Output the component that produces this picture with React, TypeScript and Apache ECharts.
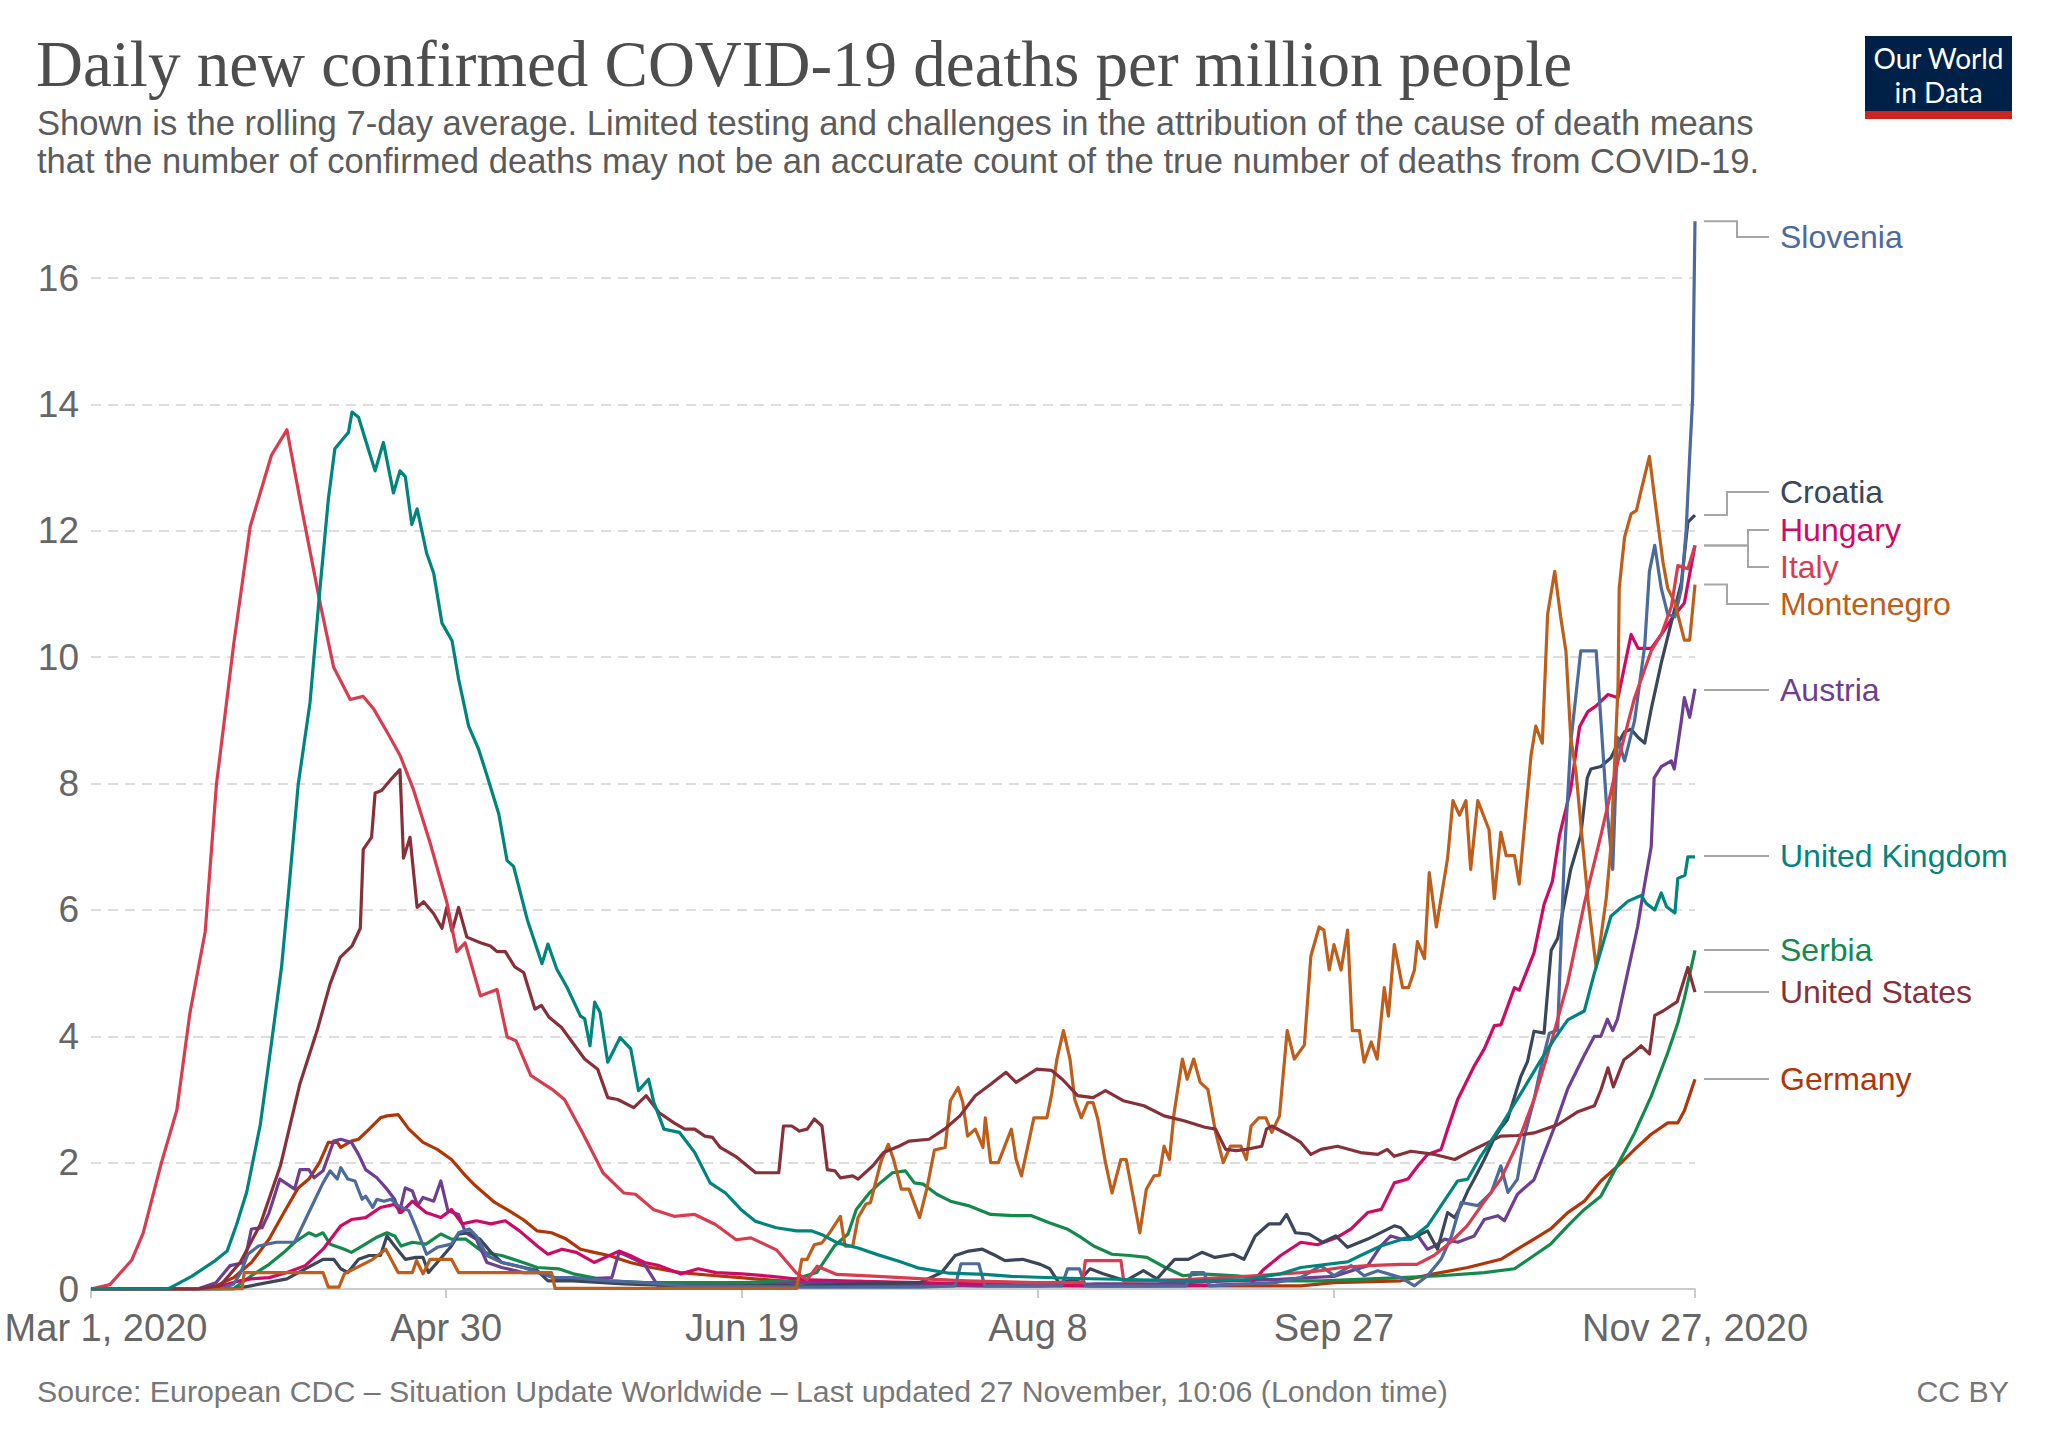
import React, { useEffect, useRef } from 'react';
import * as echarts from 'echarts';

// x = days since Mar 1, 2020 ; y = daily confirmed deaths per million (7-day avg)
const X_TICK_DAYS = [0, 60, 110, 160, 210, 271];
const X_TICK_LABELS = ['Mar 1, 2020', 'Apr 30', 'Jun 19', 'Aug 8', 'Sep 27', 'Nov 27, 2020'];
const Y_TICK_STEP = 2;
const Y_LABEL_MAX = 16;

const slovenia: [number, number][] = [
  [0, 0], [22, 0], [24.1, 0.08], [25.3, 0.26], [26.5, 0.55], [28.3, 0.68], [31.3, 0.74], [34.4, 0.74], [36.8, 1.21], [39.2, 1.68],
  [40.4, 1.87], [41.6, 1.74], [42.2, 1.92], [43.4, 1.74], [44.6, 1.71], [45.8, 1.42], [46.4, 1.47], [47.6, 1.29], [48.3, 1.42], [49.5, 1.39],
  [50.7, 1.42], [51.9, 1.32], [53.7, 1.24], [54.9, 0.97], [56.7, 0.55], [58.5, 0.66], [60.9, 0.71], [62.1, 0.89], [63.9, 0.95], [65.1, 0.84],
  [66.9, 0.53], [69.4, 0.42], [73, 0.34], [78.4, 0.18], [81.5, 0.18], [87.5, 0.13], [93.5, 0.1], [100, 0.05], [120, 0.03], [140, 0.03],
  [146, 0.05], [147, 0.4], [150, 0.4], [151, 0.05], [164, 0.05], [165, 0.32], [167, 0.32], [168, 0.05], [185, 0.05], [186, 0.26],
  [188, 0.26], [189, 0.05], [200, 0.1], [204.4, 0.18], [207.8, 0.37], [210, 0.21], [212.9, 0.37], [215.1, 0.21], [217.4, 0.29], [221.3, 0.18],
  [223.6, 0.05], [225.8, 0.21], [228.1, 0.47], [229.8, 0.82], [231.5, 1.37], [234.3, 1.32], [236.6, 1.53], [238.2, 1.95], [239.4, 1.53], [241, 1.74],
  [242.2, 2.42], [243.8, 3.0], [245, 3.53], [246.4, 4.05], [247.8, 4.1], [248.9, 6.8], [250, 8.64], [251.7, 10.1], [254.3, 10.1], [255.1, 9.0],
  [256, 7.73], [257.1, 6.64], [257.9, 8.73], [259.1, 8.36], [260.8, 9.0], [262.5, 10.18], [263.3, 11.36], [264.2, 11.77], [265.3, 11.09], [266.4, 10.68],
  [267.6, 10.64], [268.7, 11.09], [269.5, 12.0], [270.1, 13.18], [270.6, 14.1], [271, 16.9],
];

const croatia: [number, number][] = [
  [0, 0], [24, 0], [27, 0.05], [33.1, 0.16], [36.2, 0.32], [39.2, 0.47], [41, 0.47], [42.2, 0.32], [43.4, 0.26], [45.2, 0.47],
  [47, 0.53], [48.9, 0.53], [50, 0.84], [51.3, 0.68], [53.1, 0.47], [54.9, 0.5], [56.1, 0.5], [57, 0.26], [58.5, 0.42], [60.9, 0.68],
  [62.1, 0.87], [63.9, 0.89], [65.7, 0.79], [67.6, 0.58], [69.4, 0.42], [75.4, 0.29], [77.2, 0.13], [81.5, 0.13], [90, 0.08], [100, 0.05],
  [110, 0.05], [120, 0.05], [130, 0.08], [140, 0.1], [143.7, 0.26], [146, 0.53], [148.3, 0.6], [150.6, 0.63], [152.8, 0.53], [154.4, 0.45],
  [157.4, 0.47], [160.4, 0.39], [162, 0.32], [163.5, 0.1], [167.2, 0.16], [168.8, 0.32], [171, 0.24], [174.8, 0.13], [177.8, 0.29], [180.1, 0.16],
  [181.6, 0.32], [183.1, 0.47], [185.4, 0.47], [187.7, 0.58], [189.9, 0.5], [193, 0.55], [194.8, 0.47], [196.7, 0.84], [199, 1.03], [200.9, 1.03],
  [202, 1.18], [203.5, 0.89], [205.8, 0.87], [208.1, 0.74], [210.3, 0.84], [212.3, 0.66], [215.7, 0.79], [220.2, 1.0], [221.3, 0.97], [223, 0.79],
  [225.8, 0.92], [227.5, 0.63], [229.2, 1.21], [230.4, 1.13], [231.5, 1.32], [232.6, 1.55], [233.7, 1.74], [235.4, 2.05], [237.1, 2.39], [238.2, 2.55],
  [239.3, 2.68], [241.6, 3.37], [242.7, 3.6], [243.8, 4.08], [245.5, 4.05], [246.7, 5.36], [247.8, 5.55], [250, 6.64], [251.7, 7.18], [252.8, 8.09],
  [253.4, 8.23], [255.1, 8.27], [256.8, 8.41], [258, 8.64], [259.1, 8.82], [260.2, 8.86], [261.4, 8.73], [262.5, 8.64], [263.6, 9.18], [265.3, 9.91],
  [267, 10.55], [268.7, 11.18], [269.8, 12.14], [271, 12.25],
];

const hungary: [number, number][] = [
  [0, 0], [20, 0], [24.7, 0.12], [27, 0.16], [30.1, 0.18], [33.1, 0.26], [36.2, 0.37], [39.2, 0.63], [42.2, 1.0], [44, 1.1],
  [46.4, 1.13], [48.9, 1.29], [51.3, 1.34], [52.4, 1.21], [54.3, 1.39], [56.6, 1.21], [59.1, 1.13], [60.9, 1.26], [62.7, 1.03], [65.1, 1.08],
  [67.6, 1.03], [70, 1.08], [72.4, 0.92], [75.4, 0.68], [77.2, 0.55], [79.6, 0.63], [82, 0.58], [85, 0.42], [89.2, 0.6], [91.1, 0.53],
  [93.5, 0.42], [96, 0.37], [99.6, 0.24], [102.6, 0.32], [105.6, 0.26], [110, 0.24], [115, 0.2], [120, 0.15], [130, 0.12], [140, 0.1],
  [150, 0.08], [160, 0.06], [170, 0.05], [180, 0.05], [190, 0.06], [196, 0.08], [198, 0.3], [201, 0.53], [204.4, 0.74], [207.2, 0.7],
  [210.6, 0.82], [212.9, 0.95], [215.7, 1.21], [218, 1.26], [220.2, 1.68], [222.5, 1.74], [224.2, 1.95], [225.8, 2.13], [228.1, 2.21], [229.2, 2.53],
  [230.9, 3.0], [233.7, 3.53], [235.4, 3.8], [237.1, 4.17], [238.2, 4.18], [240.5, 4.77], [241.3, 4.73], [243.8, 5.32], [245.5, 6.09], [246.9, 6.45],
  [248.1, 7.18], [250, 7.91], [251.5, 8.9], [252.9, 9.14], [254.3, 9.23], [256.3, 9.41], [258, 9.36], [260.2, 10.36], [261.4, 10.14], [263.6, 10.14],
  [265.3, 10.36], [267, 10.6], [269.2, 10.86], [271, 11.77],
];

const italy: [number, number][] = [
  [0, 0], [3.2, 0.07], [6.9, 0.46], [8.8, 0.88], [11.9, 2.0], [14.5, 2.83], [16.7, 4.36], [19.3, 5.66], [21.2, 7.99], [24.1, 10.2],
  [26.9, 12.07], [30.5, 13.2], [33.1, 13.6], [35.3, 12.5], [38.7, 10.86], [41, 9.84], [43.8, 9.33], [46, 9.38], [47.7, 9.19], [50, 8.82],
  [52.2, 8.45], [54.5, 7.9], [57.3, 7.06], [60.1, 6.13], [61.8, 5.34], [63.2, 5.48], [65.8, 4.64], [68.6, 4.74], [70.3, 3.99], [71.8, 3.93],
  [74.3, 3.38], [77.9, 3.16], [80, 3.0], [83, 2.48], [86.5, 1.84], [90, 1.52], [92, 1.5], [95, 1.26], [98.5, 1.15], [102, 1.18],
  [105.5, 1.02], [109, 0.78], [111.5, 0.81], [115.8, 0.62], [119.2, 0.25], [121, 0.15], [122.7, 0.36], [126, 0.23], [133, 0.2], [140.7, 0.16],
  [148, 0.13], [159.6, 0.1], [167.5, 0.1], [168, 0.45], [174, 0.45], [174.5, 0.12], [185, 0.15], [195, 0.2], [204.4, 0.26], [207.8, 0.29],
  [211.2, 0.34], [215.7, 0.37], [221.3, 0.39], [224, 0.39], [226.9, 0.53], [229.7, 0.74], [232.5, 1.0], [235.3, 1.37], [238.2, 1.74], [241, 2.3],
  [243.8, 3.0], [246.7, 3.9], [249.5, 4.85], [252.3, 6.1], [255.1, 7.18], [258, 8.36], [260.8, 9.36], [263.6, 10.1], [265.3, 10.36], [267, 10.8],
  [268.1, 11.45], [269.8, 11.4], [271, 11.77],
];

const montenegro: [number, number][] = [
  [0, 0], [25.5, 0], [25.9, 0.26], [39.2, 0.26], [40.1, 0.03], [41.9, 0.03], [42.8, 0.24], [47.6, 0.47], [49.8, 0.63], [50.7, 0.47],
  [51.9, 0.26], [54.3, 0.26], [55, 0.45], [56.1, 0.24], [57.3, 0.47], [60.9, 0.47], [62.1, 0.26], [77.8, 0.26], [78.4, 0.01], [119.2, 0.01],
  [120.1, 0.47], [121, 0.47], [122.2, 0.7], [123.5, 0.73], [124.8, 0.89], [126.6, 1.15], [127.4, 0.68], [128.7, 0.68], [129.6, 1.13], [130.9, 1.34],
  [131.7, 1.37], [133.5, 2.03], [134.7, 2.29], [135.6, 2.05], [136.9, 1.58], [138.2, 1.58], [140, 1.13], [141.2, 1.58], [142.5, 2.2], [144.3, 2.24],
  [145.2, 2.98], [146.5, 3.19], [147.3, 2.95], [148.1, 2.42], [149.4, 2.53], [150.7, 2.24], [151.1, 2.71], [152, 2.0], [153.3, 2.0], [155.5, 2.53],
  [156.3, 2.05], [157.2, 1.79], [159.3, 2.71], [161.5, 2.71], [162.3, 3.08], [163.2, 3.64], [164.3, 4.09], [165.4, 3.64], [166.2, 3.0], [167.3, 2.71],
  [168.4, 2.95], [169.3, 2.95], [170.1, 2.69], [171.4, 2.0], [172.5, 1.52], [174, 2.05], [174.9, 2.05], [176, 1.5], [177.2, 0.89], [178.3, 1.58],
  [179.6, 1.79], [180.5, 1.8], [181.3, 2.26], [182.2, 2.05], [183, 2.79], [184.4, 3.64], [185.2, 3.32], [186.3, 3.64], [187.4, 3.27], [188.7, 3.16],
  [190, 2.48], [191.3, 2.0], [192.5, 2.26], [194.3, 2.26], [195.2, 2.05], [196, 2.58], [197.3, 2.71], [198.5, 2.71], [199.5, 2.48], [200.8, 2.74],
  [202.1, 4.09], [203.3, 3.64], [205, 3.86], [206.1, 5.27], [207.5, 5.73], [208.3, 5.68], [209.2, 5.05], [210, 5.45], [211.2, 5.05], [212.3, 5.68],
  [213.1, 4.09], [214.3, 4.09], [215.1, 3.59], [216.3, 3.91], [217.3, 3.64], [218.5, 4.77], [219.2, 4.32], [220.2, 5.45], [221.6, 4.77], [222.6, 4.77],
  [223.6, 5.05], [224.1, 5.5], [225.3, 5.23], [226.1, 6.59], [227.3, 5.73], [229.2, 6.82], [230.1, 7.73], [231.2, 7.5], [232.3, 7.73], [233.1, 6.64],
  [234.3, 7.73], [236.2, 7.27], [237.1, 6.18], [238.2, 7.23], [239.1, 6.86], [240.5, 6.86], [241.3, 6.41], [243.3, 8.45], [244.1, 8.91], [245.2, 8.64],
  [246.1, 10.68], [247.3, 11.36], [248.3, 10.64], [249.2, 10.09], [250, 8.73], [250.9, 8.18], [251.7, 7.36], [252.9, 6.18], [254.3, 5.09], [254.8, 5.36],
  [256, 6.18], [256.8, 7.0], [258, 9.55], [258.2, 11.1], [259.1, 11.9], [260.2, 12.27], [261.1, 12.32], [261.9, 12.64], [263.3, 13.18], [264.4, 12.36],
  [265.6, 11.5], [266.4, 11.09], [267.6, 10.86], [269.2, 10.27], [270.1, 10.27], [271, 11.15],
];

const austria: [number, number][] = [
  [0, 0], [18, 0], [21.1, 0.1], [23.5, 0.37], [25.9, 0.42], [27.1, 0.95], [28.9, 0.97], [30.1, 1.21], [31.9, 1.74], [34.4, 1.58],
  [35.3, 1.89], [36.8, 1.89], [37.7, 1.76], [39.2, 1.87], [41, 2.34], [42.2, 2.37], [44, 2.32], [45.2, 2.13], [46.4, 1.89], [48.3, 1.76],
  [50, 1.58], [51.3, 1.42], [52.1, 1.21], [53.1, 1.6], [54.3, 1.55], [55.2, 1.32], [56.1, 1.45], [57.9, 1.39], [59.1, 1.71], [60.3, 1.24],
  [62.1, 1.18], [63.3, 0.89], [65.1, 0.79], [66.9, 0.42], [69.4, 0.34], [73, 0.26], [75.4, 0.26], [79, 0.16], [83.8, 0.16], [88, 0.18],
  [89.2, 0.58], [91.1, 0.5], [93.5, 0.39], [96, 0.02], [100, 0.05], [110, 0.05], [120, 0.1], [130, 0.12], [140, 0.08], [150, 0.05],
  [160, 0.05], [170, 0.08], [180, 0.08], [190, 0.12], [200, 0.15], [210, 0.2], [215.7, 0.37], [217.9, 0.68], [219.6, 0.84], [221.3, 0.79],
  [224.2, 0.84], [225.8, 0.63], [227, 0.68], [228.7, 0.79], [230.9, 0.74], [233.7, 0.84], [235.4, 1.1], [237.7, 1.16], [238.8, 1.08], [241, 1.5],
  [243.8, 1.73], [247.2, 2.55], [249.5, 3.17], [252.3, 3.7], [254, 4.0], [255.1, 4.0], [256.2, 4.27], [257.1, 4.09], [257.9, 4.27], [259.6, 5.0],
  [261.3, 5.73], [262.4, 6.36], [263.6, 7.0], [264.1, 8.09], [265.3, 8.27], [267, 8.36], [267.5, 8.23], [268.7, 9.0], [269.2, 9.36], [270.1, 9.05],
  [271, 9.5],
];

const unitedKingdom: [number, number][] = [
  [0, 0], [13, 0], [14, 0.05], [17, 0.2], [21, 0.45], [23, 0.6], [24.6, 1.02], [26.3, 1.53], [28.6, 2.6], [30.5, 3.9],
  [32.2, 5.1], [33.4, 6.3], [35, 7.98], [37, 9.28], [38.7, 11.1], [40.1, 12.5], [41.2, 13.3], [43.5, 13.56], [44.1, 13.88], [45.2, 13.8],
  [46.6, 13.37], [48, 12.95], [49.4, 13.4], [51.1, 12.6], [52.2, 12.95], [53.1, 12.86], [54.2, 12.1], [55.1, 12.35], [56.7, 11.65], [57.9, 11.33],
  [59.3, 10.54], [61, 10.26], [62.1, 9.66], [63.8, 8.91], [65.5, 8.54], [66.6, 8.22], [68.9, 7.52], [70.3, 6.78], [71.4, 6.69], [73.7, 5.85],
  [76.2, 5.15], [77.2, 5.46], [78.7, 5.06], [80.4, 4.78], [82.7, 4.32], [83.4, 4.28], [84.3, 3.85], [85.1, 4.54], [86, 4.38], [87.3, 3.59],
  [89.4, 3.98], [91.2, 3.8], [92.5, 3.14], [94.2, 3.32], [95.1, 2.95], [96.8, 2.53], [99.4, 2.48], [102, 2.16], [104.6, 1.68], [107.2, 1.52],
  [109.8, 1.26], [112.3, 1.07], [115.8, 0.97], [119.2, 0.92], [121.8, 0.92], [123.5, 0.86], [126.1, 0.73], [129.6, 0.65], [133, 0.54], [136.5, 0.44],
  [139.9, 0.33], [145, 0.25], [151, 0.23], [155.5, 0.2], [165, 0.17], [175, 0.15], [186, 0.13], [195, 0.15], [201, 0.24], [204.4, 0.34],
  [207.8, 0.38], [212.3, 0.43], [214.5, 0.53], [217.9, 0.68], [221.3, 0.78], [223, 0.79], [225.8, 1.0], [228.1, 1.32], [230.9, 1.71], [232.6, 1.74],
  [234.8, 2.1], [238.2, 2.58], [241.6, 3.1], [245, 3.63], [247.2, 3.95], [249.5, 4.26], [252.3, 4.4], [254, 5.0], [256.8, 5.9], [259.7, 6.14],
  [261.9, 6.23], [262.8, 6.1], [264.2, 6.0], [265.3, 6.27], [266.2, 6.05], [267.6, 5.95], [268.1, 6.5], [269.3, 6.55], [269.8, 6.84], [271, 6.84],
];

const serbia: [number, number][] = [
  [0, 0], [24, 0], [27.1, 0.21], [30.1, 0.39], [32.6, 0.58], [34.4, 0.74], [36.8, 0.89], [38, 0.84], [39.2, 0.89], [40.4, 0.71],
  [42.8, 0.63], [44, 0.58], [45.8, 0.68], [48.3, 0.82], [50, 0.89], [51.3, 0.84], [52.4, 0.68], [54.3, 0.74], [56.6, 0.71], [59.1, 0.87],
  [60.9, 0.79], [63.3, 0.79], [66.3, 0.58], [69.4, 0.53], [73, 0.42], [75.4, 0.34], [79, 0.32], [81.5, 0.24], [87.5, 0.13], [93.5, 0.1],
  [99.6, 0.1], [110, 0.1], [118, 0.13], [122.6, 0.26], [125.6, 0.68], [127.9, 0.87], [129.3, 1.26], [131.6, 1.53], [133.1, 1.66], [135.4, 1.84],
  [137.6, 1.87], [139.1, 1.68], [140.6, 1.66], [142.9, 1.5], [145.2, 1.39], [148.2, 1.32], [152, 1.18], [155.8, 1.16], [158.9, 1.16], [161.9, 1.05],
  [164.9, 0.95], [167.2, 0.82], [169.4, 0.68], [172.5, 0.55], [175.5, 0.53], [178.4, 0.5], [181.5, 0.34], [184.5, 0.21], [187.5, 0.24], [193.6, 0.21],
  [201, 0.13], [208, 0.13], [221.3, 0.18], [228, 0.21], [235.4, 0.26], [240.5, 0.32], [243.8, 0.53], [246.6, 0.71], [249.5, 1.0], [252.3, 1.26],
  [255.1, 1.47], [257.4, 1.87], [260.8, 2.47], [263.6, 3.05], [266.4, 3.74], [268.1, 4.21], [269.2, 4.6], [271, 5.36],
];

const unitedStates: [number, number][] = [
  [0, 0], [18, 0], [21.8, 0.05], [25.2, 0.42], [28.6, 1.02], [32, 1.95], [35.3, 3.25], [38.2, 4.09], [40.4, 4.83], [42.1, 5.25],
  [44.1, 5.43], [45.5, 5.71], [46, 6.96], [47.4, 7.15], [48, 7.85], [49.1, 7.89], [50.8, 8.08], [52.2, 8.22], [52.8, 6.82], [53.9, 7.15],
  [55.1, 6.04], [56.2, 6.13], [57.9, 5.94], [59.3, 5.71], [60.1, 6.04], [61, 5.66], [62.1, 6.04], [63.5, 5.57], [65.8, 5.48], [67.5, 5.43],
  [68.6, 5.34], [70, 5.34], [71.6, 5.1], [73.1, 5.01], [75, 4.43], [76.1, 4.49], [77.4, 4.3], [79.5, 4.14], [83.4, 3.64], [85.6, 3.48],
  [87.3, 3.03], [89, 3.0], [91.7, 2.87], [93.8, 3.06], [96, 2.79], [98.5, 2.63], [100.3, 2.53], [102, 2.53], [103.7, 2.42], [105, 2.4],
  [106.3, 2.24], [108.9, 2.1], [112.3, 1.84], [116.2, 1.84], [117, 2.58], [118.4, 2.58], [119.7, 2.5], [121, 2.53], [122.2, 2.69], [123.5, 2.58],
  [124.4, 1.89], [125.7, 1.87], [126.6, 1.76], [128.7, 1.79], [129.6, 1.74], [132.1, 1.95], [133.9, 2.16], [136.5, 2.26], [138.2, 2.34], [141.6, 2.37],
  [144.2, 2.53], [146.8, 2.74], [149.4, 3.06], [152, 3.24], [154.6, 3.43], [156.3, 3.27], [159.8, 3.48], [162.3, 3.46], [164.1, 3.32], [166.7, 3.06],
  [169.3, 3.03], [171.4, 3.14], [174.4, 2.98], [177.9, 2.9], [181.3, 2.74], [184.8, 2.66], [188.2, 2.56], [190, 2.53], [191.7, 2.21], [193.5, 2.19],
  [195.2, 2.21], [197.8, 2.26], [198.6, 2.53], [199.5, 2.58], [202.1, 2.45], [204.4, 2.32], [206.1, 2.13], [207.8, 2.21], [210.6, 2.26], [214.5, 2.16],
  [217.4, 2.13], [219, 2.21], [220.2, 2.1], [223, 2.18], [227, 2.13], [230.4, 2.05], [232.6, 2.16], [235.4, 2.29], [238.2, 2.42], [241, 2.43],
  [243.8, 2.47], [247.8, 2.6], [251.1, 2.8], [254, 2.9], [255.1, 3.15], [256.3, 3.5], [257.2, 3.2], [259, 3.63], [260.7, 3.75], [261.9, 3.85],
  [263.3, 3.72], [264.2, 4.33], [265.6, 4.4], [268, 4.55], [269.8, 5.09], [271, 4.7],
];

const germany: [number, number][] = [
  [0, 0], [18, 0], [21.1, 0.05], [24.1, 0.18], [27.1, 0.42], [30.1, 0.79], [32.6, 1.21], [35, 1.6], [36.8, 1.74], [38.6, 2.0],
  [40.1, 2.32], [41.6, 2.32], [42.2, 2.24], [44, 2.34], [45.2, 2.37], [47, 2.53], [48.9, 2.71], [50, 2.74], [51.9, 2.76], [53.7, 2.53],
  [56.1, 2.32], [58.5, 2.21], [60.9, 2.05], [63.3, 1.79], [65, 1.63], [68.2, 1.37], [70.6, 1.24], [73, 1.1], [75.4, 0.92], [77.8, 0.89],
  [80.3, 0.79], [82.7, 0.63], [85, 0.58], [87.5, 0.53], [91.1, 0.42], [94.7, 0.34], [99.6, 0.26], [105.6, 0.21], [109.7, 0.18], [115, 0.14],
  [125, 0.07], [140, 0.05], [160, 0.05], [180, 0.05], [195, 0.05], [204.4, 0.05], [210, 0.1], [221.3, 0.13], [226.9, 0.24], [232.6, 0.34],
  [238.2, 0.47], [241, 0.63], [243.8, 0.79], [246.6, 0.95], [249.5, 1.21], [252.3, 1.39], [255.1, 1.71], [258, 1.95], [260.8, 2.21], [263.6, 2.45],
  [266.4, 2.63], [268.1, 2.63], [269.2, 2.82], [271, 3.32],
];

const COUNTRIES = ['Slovenia', 'Croatia', 'Hungary', 'Italy', 'Montenegro', 'Austria', 'United Kingdom', 'Serbia', 'United States', 'Germany'];
const COUNTRY_DATA = [slovenia, croatia, hungary, italy, montenegro, austria, unitedKingdom, serbia, unitedStates, germany];

// styling / layout (not data)
const COLORS: Record<string, string> = {
  Slovenia: '#4C6A9C',
  Croatia: '#3A4659',
  Hungary: '#CF0A66',
  Italy: '#D73C50',
  Montenegro: '#BE5E1A',
  Austria: '#6D3E91',
  'United Kingdom': '#00847E',
  Serbia: '#138A4C',
  'United States': '#883039',
  Germany: '#B13507',
};
const LABEL_Y: Record<string, number> = {
  Slovenia: 237, Croatia: 492, Hungary: 530, Italy: 567, Montenegro: 604,
  Austria: 690, 'United Kingdom': 856, Serbia: 950, 'United States': 992, Germany: 1079,
};
const ELBOW_X: Record<string, number> = {
  Slovenia: 1737, Croatia: 1727, Hungary: 1748, Italy: 1748, Montenegro: 1727,
  Austria: 1737, 'United Kingdom': 1737, Serbia: 1737, 'United States': 1737, Germany: 1737,
};
const DRAW_ORDER = ['Germany', 'Serbia', 'Austria', 'Hungary', 'Croatia', 'Slovenia', 'Montenegro', 'United States', 'Italy', 'United Kingdom'];

const SANS = '"Liberation Sans", Arial, sans-serif';

export default function App() {
  const ref = useRef<HTMLDivElement>(null);

  useEffect(() => {
    if (!ref.current) return;
    const chart = echarts.init(ref.current, undefined, { renderer: 'svg' });

    const txt = (text: string, x: number, y: number, font: string, fill: string, align = 'left') => ({
      type: 'text',
      x,
      y,
      silent: true,
      style: { text, font, fill, textAlign: align, align, textVerticalAlign: 'middle', verticalAlign: 'middle' },
    });

    const staticGraphics: any[] = [
      txt('Daily new confirmed COVID-19 deaths per million people', 36, 64, `400 65px "Liberation Serif", "Times New Roman", serif`, '#4d4d4d'),
      txt('Shown is the rolling 7-day average. Limited testing and challenges in the attribution of the cause of death means', 37, 123, `34.6px ${SANS}`, '#5b5b5b'),
      txt('that the number of confirmed deaths may not be an accurate count of the true number of deaths from COVID-19.', 37, 161, `34.6px ${SANS}`, '#5b5b5b'),
      { type: 'rect', silent: true, shape: { x: 1865, y: 36, width: 147, height: 75 }, style: { fill: '#002147' } },
      { type: 'rect', silent: true, shape: { x: 1865, y: 111, width: 147, height: 8 }, style: { fill: '#CE261E' } },
      txt('Our World', 1938.5, 58, `28px Lato, ${SANS}`, '#ffffff', 'center'),
      txt('in Data', 1938.5, 92, `28px Lato, ${SANS}`, '#ffffff', 'center'),
      txt('Source: European CDC – Situation Update Worldwide – Last updated 27 November, 10:06 (London time)', 37, 1391, `30.3px ${SANS}`, '#777777'),
      txt('CC BY', 2009, 1391, `30.3px ${SANS}`, '#777777', 'right'),
      ...COUNTRIES.map((c) => txt(c, 1780, LABEL_Y[c], `32px ${SANS}`, COLORS[c])),
    ];

    const series = DRAW_ORDER.map((c) => {
      const idx = COUNTRIES.indexOf(c);
      return {
        type: 'line',
        name: c,
        data: COUNTRY_DATA[idx],
        showSymbol: false,
        symbol: 'none',
        silent: true,
        lineStyle: { color: COLORS[c], width: 3.2, join: 'round' },
        itemStyle: { color: COLORS[c] },
        emphasis: { disabled: true },
      };
    });

    chart.setOption({
      animation: false,
      backgroundColor: '#ffffff',
      grid: { left: 91, right: 353, top: 215, bottom: 157, containLabel: false, outerBoundsMode: 'none' },
      xAxis: {
        type: 'value',
        min: 0,
        max: 271,
        axisLine: { show: true, lineStyle: { color: '#cccccc', width: 2 } },
        axisTick: { show: true, customValues: X_TICK_DAYS, length: 9, lineStyle: { color: '#cccccc', width: 2 } },
        splitLine: { show: false },
        axisLabel: {
          customValues: X_TICK_DAYS,
          showMinLabel: true,
          showMaxLabel: true,
          margin: 19,
          fontSize: 38,
          lineHeight: 40,
          color: '#666666',
          fontFamily: SANS,
          formatter: (v: number) => {
            const i = X_TICK_DAYS.indexOf(Math.round(v));
            if (i < 0) return '';
            return i === 0 ? `{first|${X_TICK_LABELS[i]}}` : X_TICK_LABELS[i];
          },
          rich: {
            first: { fontSize: 38, lineHeight: 40, color: '#666666', fontFamily: SANS, padding: [0, 0, 0, 30] },
          },
        },
      },
      yAxis: {
        type: 'value',
        min: 0,
        max: 17,
        interval: Y_TICK_STEP,
        axisLine: { show: false },
        axisTick: { show: false },
        axisLabel: {
          margin: 12,
          fontSize: 37,
          color: '#666666',
          fontFamily: SANS,
          formatter: (v: number) => (v % Y_TICK_STEP === 0 && v <= Y_LABEL_MAX ? String(v) : ''),
        },
        splitLine: {
          show: true,
          showMinLine: false,
          showMaxLine: false,
          lineStyle: { color: '#dddddd', width: 2, type: [10, 7] },
        },
      },
      series,
      graphic: staticGraphics,
    });

    const connectors: any[] = COUNTRIES.map((c, i) => {
      const d = COUNTRY_DATA[i];
      const last = d[d.length - 1];
      const p = chart.convertToPixel({ gridIndex: 0 }, last) as number[];
      const sx = p[0] + 9;
      const sy = p[1];
      const ly = LABEL_Y[c];
      const ex = ELBOW_X[c];
      const pts = Math.abs(sy - ly) < 3
        ? [[sx, ly], [1769, ly]]
        : [[sx, sy], [ex, sy], [ex, ly], [1769, ly]];
      return {
        type: 'polyline',
        silent: true,
        shape: { points: pts },
        style: { stroke: '#a6a6a6', lineWidth: 2, fill: 'none' },
      };
    });

    chart.setOption({ graphic: [...staticGraphics, ...connectors] });

    return () => chart.dispose();
  }, []);

  return (
    <div
      ref={ref}
      style={{ position: 'absolute', left: 0, top: 0, width: 2048, height: 1446, background: '#ffffff' }}
    />
  );
}
